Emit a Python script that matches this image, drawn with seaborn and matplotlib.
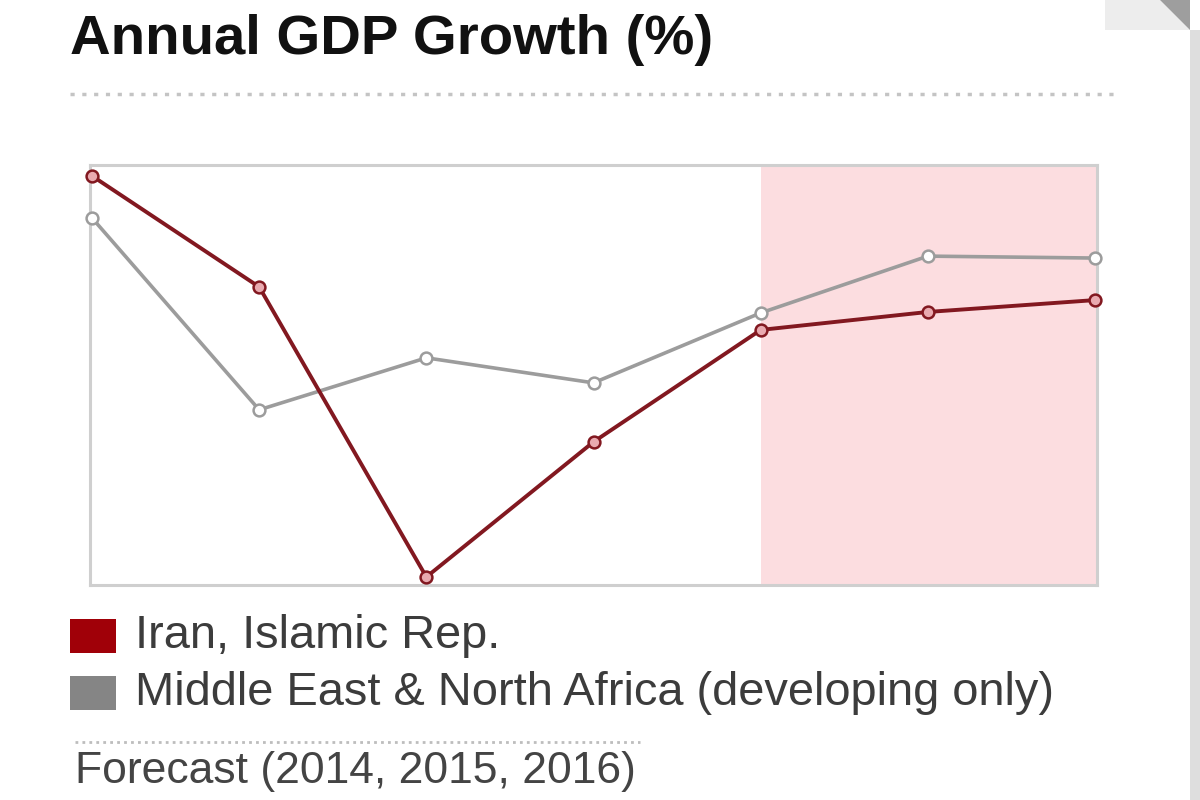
import matplotlib
matplotlib.use("Agg")
import matplotlib.pyplot as plt
import seaborn as sns
import pandas as pd
from matplotlib.patches import Rectangle, Polygon
from matplotlib.lines import Line2D

# data (no axis labels in the original)
years = [2010, 2011, 2012, 2013, 2014, 2015, 2016]
iran = [5.9, 2.44, -6.6, -2.39, 1.10, 1.66, 2.03]
mena = [4.59, -1.39, 0.23, -0.55, 1.63, 3.40, 3.34]
series_names = ["Iran, Islamic Rep.", "Middle East & North Africa (developing only)"]
forecast_start = 2014
forecast_label = "Forecast (2014, 2015, 2016)"
title = "Annual GDP Growth (%)"

df = pd.DataFrame({
    "year": years * 2,
    "growth": iran + mena,
    "series": [series_names[0]] * len(years) + [series_names[1]] * len(years),
})

sns.set_theme(style="white")
plt.rcParams["font.family"] = ["Liberation Sans", "DejaVu Sans"]

fig = plt.figure(figsize=(12, 8), dpi=100)
ax = fig.add_axes([0.075, 0.26875, 0.8392, 0.525])

x_lo, x_hi = 2009.988, 2016.012
ax.axvspan(forecast_start, x_hi, color="#fcdde0", zorder=0, lw=0)

red = "#821820"
grey = "#9c9c9c"
sns.lineplot(data=df[df.series == series_names[1]], x="year", y="growth", ax=ax,
             color=grey, lw=2.6, marker="o", markersize=8.5, markerfacecolor="white",
             markeredgecolor=grey, markeredgewidth=1.8, legend=False, clip_on=False, zorder=3)
sns.lineplot(data=df[df.series == series_names[0]], x="year", y="growth", ax=ax,
             color=red, lw=2.8, marker="o", markersize=8.5, markerfacecolor="#e9aab0",
             markeredgecolor=red, markeredgewidth=1.8, legend=False, clip_on=False, zorder=4)

ax.set_xlim(x_lo, x_hi)
ax.set_ylim(-6.85, 6.24)
ax.set_xticks([])
ax.set_yticks([])
ax.set_xlabel("")
ax.set_ylabel("")
for s in ax.spines.values():
    s.set_visible(True)
    s.set_color("#cfcfcf")
    s.set_linewidth(2.2)

# title and dotted rule
fig.text(70 / 1200, 1 - 40 / 800, title, fontsize=40.5, fontweight="bold",
         color="#111111", va="center", ha="left")
fig.add_artist(Line2D([70 / 1200, 1118 / 1200], [1 - 94 / 800] * 2, transform=fig.transFigure,
                      color="#c4c4c4", lw=2.5, linestyle=(0, (1.2, 2.2))))

# legend
legend_colors = ["#a00008", "#858585"]
legend_y = [636, 693]
for name, col, yc in zip(series_names, legend_colors, legend_y):
    fig.add_artist(Rectangle((70 / 1200, 1 - (yc + 17) / 800), 46 / 1200, 34 / 800,
                             transform=fig.transFigure, color=col, lw=0))
    fig.text(135 / 1200, 1 - yc / 800, name, fontsize=33.8, color="#3c3c3c",
             va="center", ha="left")

fig.add_artist(Line2D([75 / 1200, 640 / 1200], [1 - 742 / 800] * 2, transform=fig.transFigure,
                      color="#bdbdbd", lw=2, linestyle=(0, (1, 1.5))))
fig.text(75 / 1200, 1 - 772 / 800, forecast_label, fontsize=32, color="#444444",
         va="center", ha="left")

# page edge and folded corner
fig.add_artist(Rectangle((1190 / 1200, 0), 10 / 1200, 1 - 30 / 800,
                         transform=fig.transFigure, color="#dedede", lw=0))
fig.add_artist(Polygon([(1105 / 1200, 1), (1160 / 1200, 1), (1190 / 1200, 1 - 30 / 800),
                        (1105 / 1200, 1 - 30 / 800)], closed=True,
                       transform=fig.transFigure, color="#ededed", lw=0))
fig.add_artist(Polygon([(1160 / 1200, 1), (1190 / 1200, 1), (1190 / 1200, 1 - 30 / 800)],
                       closed=True, transform=fig.transFigure, color="#9e9e9e", lw=0))

fig.savefig("out.png", dpi=100)
